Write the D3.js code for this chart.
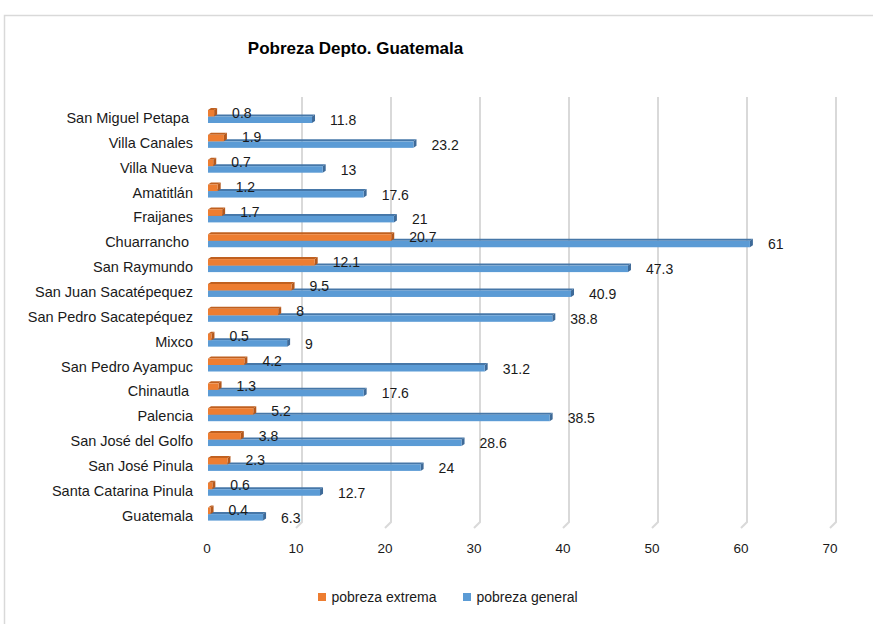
<!DOCTYPE html>
<html><head><meta charset="utf-8">
<script src="https://cdn.jsdelivr.net/npm/d3@7"></script>
<style>body{margin:0;background:#fff}text{font-family:"Liberation Sans",Arial,sans-serif;white-space:pre}</style>
</head><body><svg id="c" width="873" height="624"></svg>
<script>
const categories = ["San Miguel Petapa ", "Villa Canales", "Villa Nueva", "Amatitlán", "Fraijanes", "Chuarrancho ", "San Raymundo", "San Juan Sacatépequez", "San Pedro Sacatepéquez", "Mixco", "San Pedro Ayampuc", "Chinautla ", "Palencia", "San José del Golfo", "San José Pinula", "Santa Catarina Pinula", "Guatemala"];
const extrema = [0.8, 1.9, 0.7, 1.2, 1.7, 20.7, 12.1, 9.5, 8, 0.5, 4.2, 1.3, 5.2, 3.8, 2.3, 0.6, 0.4];
const general = [11.8, 23.2, 13, 17.6, 21, 61, 47.3, 40.9, 38.8, 9, 31.2, 17.6, 38.5, 28.6, 24, 12.7, 6.3];
const ticks = [0, 10, 20, 30, 40, 50, 60, 70];
const seriesNames = ["pobreza extrema", "pobreza general"];

const svg = d3.select("#c");
svg.append("rect").attr("x",4.5).attr("y",15.5).attr("width",900).attr("height",700)
  .attr("fill","#fff").attr("stroke","#d9d9d9").attr("stroke-width",1.5);

svg.append("text").attr("x",355.5).attr("y",48).attr("text-anchor","middle").attr("dominant-baseline","central")
  .attr("font-size",17).attr("font-weight","bold").attr("fill","#000").text("Pobreza Depto. Guatemala");

const x = d3.scaleLinear().domain([0,70]).range([207,830]);
const y = d3.scaleBand().domain(categories).range([108, 108 + 17*24.85]).padding(0);

// gridlines (back wall with floor bend)
const gd = 6;
svg.append("g").selectAll("path").data(ticks.filter(t=>t>0)).join("path")
  .attr("d", t => `M${x(t)+gd},97 L${x(t)+gd},522 L${x(t)},528`)
  .attr("fill","none").attr("stroke","#d9d9d9").attr("stroke-width",2);

// tick labels
svg.append("g").selectAll("text").data(ticks).join("text")
  .attr("x", t=>x(t)).attr("y",548).attr("text-anchor","middle").attr("dominant-baseline","central")
  .attr("font-size",13.5).attr("fill","#1a1a1a").text(t=>t);

// category labels
svg.append("g").selectAll("text").data(categories).join("text")
  .attr("x",193).attr("y", c=>y(c)+10).attr("text-anchor","end").attr("dominant-baseline","central")
  .attr("font-size",14.5).attr("fill","#1a1a1a").text(c=>c);

const dx = 3, dy = -2;
function bar3d(g, x0, xe, yf, yb, front, top, side) {
  g.append("path").attr("d",`M${x0},${yf} L${x0+dx},${yf+dy} L${xe+dx},${yf+dy} L${xe},${yf} Z`).attr("fill",top);
  g.append("path").attr("d",`M${xe},${yf} L${xe+dx},${yf+dy} L${xe+dx},${yb+dy} L${xe},${yb} Z`).attr("fill",side);
  g.append("rect").attr("x",x0).attr("y",yf).attr("width",Math.max(0,xe-x0)).attr("height",yb-yf).attr("fill",front);
}

const gBars = svg.append("g");
categories.forEach((c,i)=>{
  const t = y(c);
  bar3d(gBars, x(0)+1, x(general[i]), t+8.5, t+15, "#5b9bd5", "#4677a8", "#3e6a98");
  bar3d(gBars, x(0)+1, x(extrema[i]), t+2, t+8.5, "#ed7d31", "#c0601f", "#b4581c");
});

// value labels
const gLab = svg.append("g");
gLab.selectAll("text.e").data(categories).join("text").attr("class","e")
  .attr("x",(c,i)=>x(extrema[i])+18).attr("y",c=>y(c)+4.5).attr("dominant-baseline","central")
  .attr("font-size",14).attr("fill","#1a1a1a").text((c,i)=>extrema[i]);
gLab.selectAll("text.g").data(categories).join("text").attr("class","g")
  .attr("x",(c,i)=>x(general[i])+18).attr("y",c=>y(c)+12).attr("dominant-baseline","central")
  .attr("font-size",14).attr("fill","#1a1a1a").text((c,i)=>general[i]);

// legend
const legX = [318, 463], legCol = ["#ed7d31", "#5b9bd5"];
const leg = svg.append("g");
seriesNames.forEach((s,i)=>{
  leg.append("rect").attr("x",legX[i]).attr("y",593).attr("width",8).attr("height",8).attr("fill",legCol[i]);
  leg.append("text").attr("x",legX[i]+13.5).attr("y",597).attr("dominant-baseline","central")
    .attr("font-size",14).attr("fill","#1a1a1a").text(s);
});
</script></body></html>
